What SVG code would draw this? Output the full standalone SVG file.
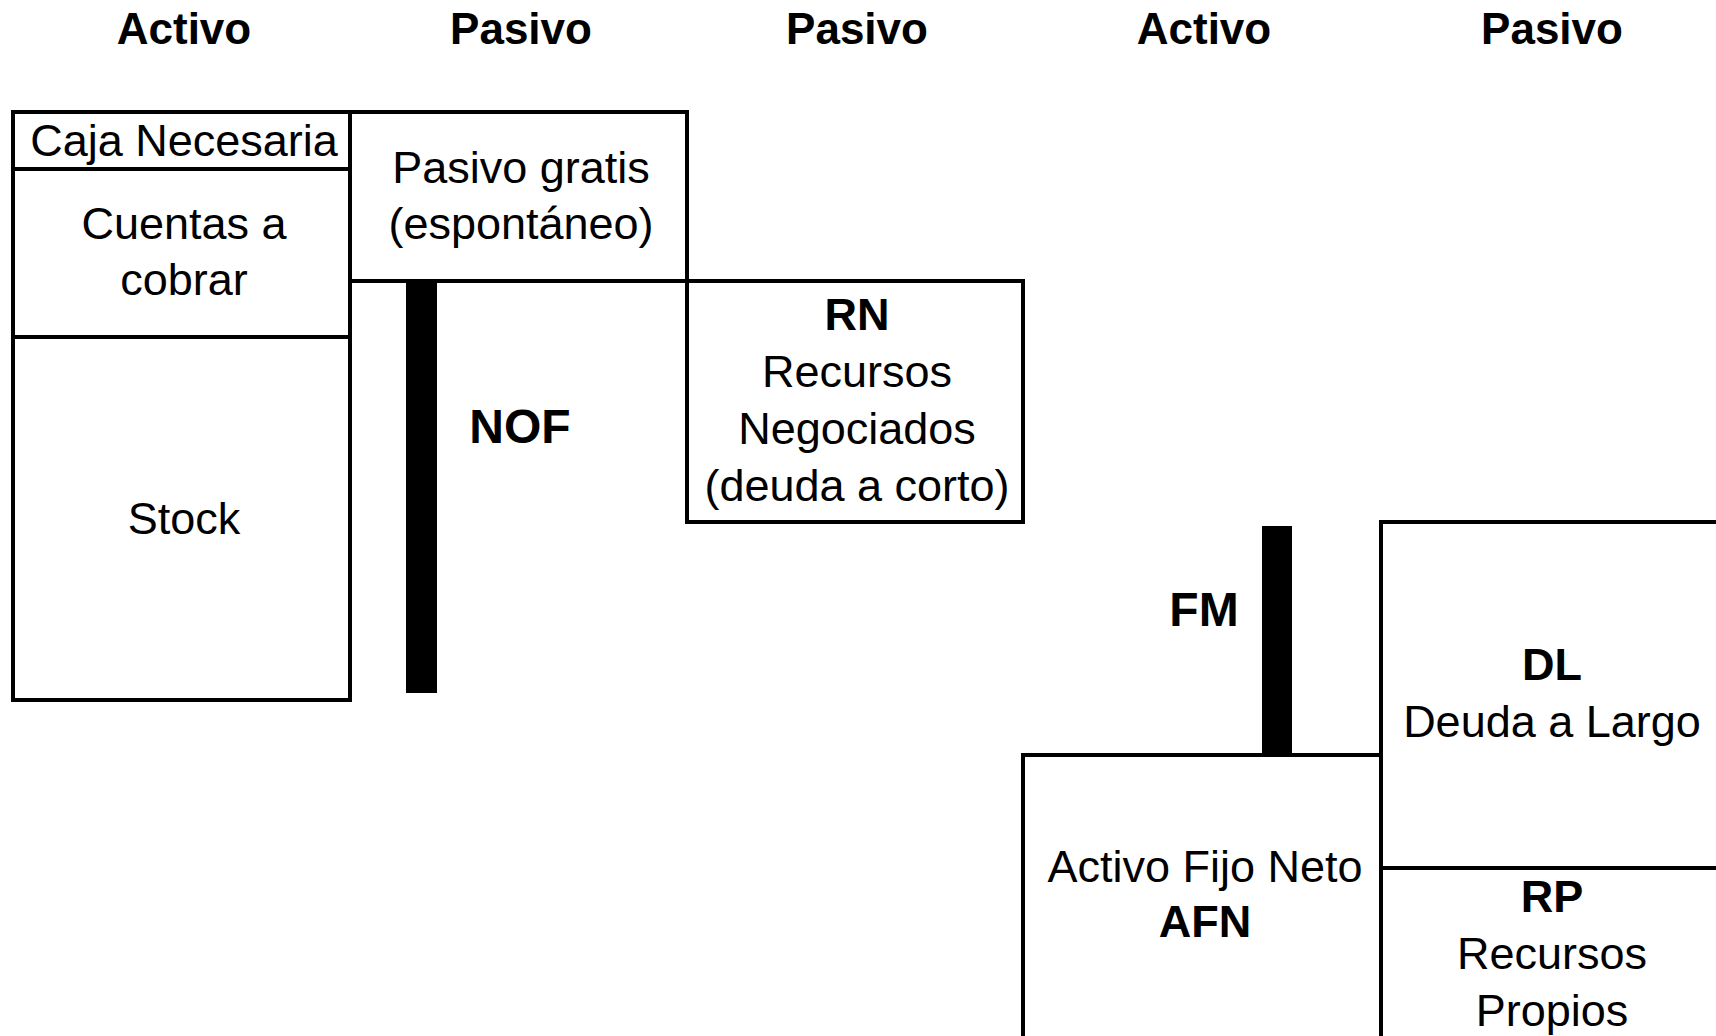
<svg xmlns="http://www.w3.org/2000/svg" width="1716" height="1036" viewBox="0 0 1716 1036">
<style>
.b{fill:none;stroke:#000;stroke-width:4}
.t{font-family:"Liberation Sans",Arial,sans-serif;font-size:45px;fill:#000;text-anchor:middle}
.h{font-weight:bold}
.hd{font-size:44px}
.big{font-size:48px}
</style>
<rect width="1716" height="1036" fill="#fff"/>
<g id="headers">
<text class="t h hd" x="184" y="44">Activo</text>
<text class="t h hd" x="521" y="44">Pasivo</text>
<text class="t h hd" x="857" y="44">Pasivo</text>
<text class="t h hd" x="1204" y="44">Activo</text>
<text class="t h hd" x="1552" y="44">Pasivo</text>
</g>
<g id="caja">
<rect class="b" x="13" y="112" width="337" height="57"/>
<text class="t" x="184" y="156">Caja Necesaria</text>
</g>
<g id="cuentas">
<rect class="b" x="13" y="169" width="337" height="168"/>
<text class="t" x="184" y="239">Cuentas a</text>
<text class="t" x="184" y="295">cobrar</text>
</g>
<g id="stock">
<rect class="b" x="13" y="337" width="337" height="363"/>
<text class="t" x="184" y="534">Stock</text>
</g>
<g id="pasivo-gratis">
<rect class="b" x="350" y="112" width="337" height="169"/>
<text class="t" x="521" y="183">Pasivo gratis</text>
<text class="t" x="521" y="239">(espontáneo)</text>
</g>
<g id="rn">
<rect class="b" x="687" y="281" width="336" height="241"/>
<text class="t h" x="857" y="330">RN</text>
<text class="t" x="857" y="387">Recursos</text>
<text class="t" x="857" y="444">Negociados</text>
<text class="t" x="857" y="501">(deuda a corto)</text>
</g>
<g id="nof">
<rect x="406" y="281" width="31" height="412" fill="#000"/>
<text class="t h big" x="520" y="443">NOF</text>
</g>
<g id="fm">
<rect x="1262" y="526" width="30" height="229" fill="#000"/>
<text class="t h big" x="1204" y="626">FM</text>
</g>
<g id="afn">
<rect class="b" x="1023" y="755" width="358" height="300"/>
<text class="t" x="1205" y="882">Activo Fijo Neto</text>
<text class="t h" x="1205" y="937">AFN</text>
</g>
<g id="dl">
<rect class="b" x="1381" y="522" width="345" height="346"/>
<text class="t h" x="1552" y="680">DL</text>
<text class="t" x="1552" y="737">Deuda a Largo</text>
</g>
<g id="rp">
<rect class="b" x="1381" y="868" width="345" height="200"/>
<text class="t h" x="1552" y="912">RP</text>
<text class="t" x="1552" y="969">Recursos</text>
<text class="t" x="1552" y="1026">Propios</text>
</g>
<g id="connectors">
<line class="b" x1="350" y1="281" x2="687" y2="281"/>
</g>
</svg>
